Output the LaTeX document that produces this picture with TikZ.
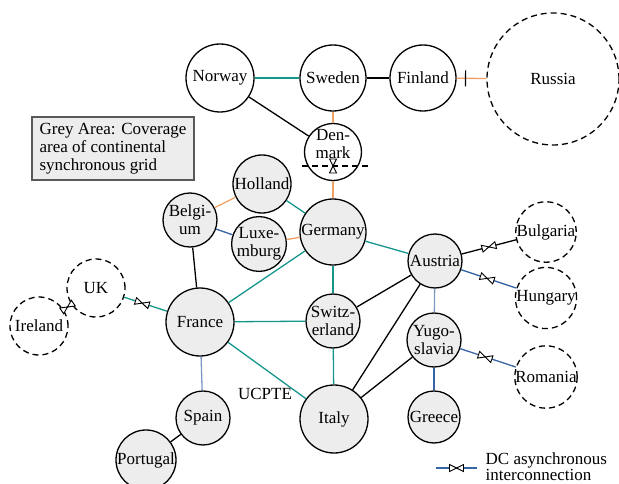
\documentclass[tikz,border=0pt]{standalone}
\usepackage{fontspec}
\setmainfont{Liberation Serif}
\usetikzlibrary{decorations.markings}
\definecolor{cgrey}{gray}{0.93}
\definecolor{lteal}{RGB}{20,150,140}
\definecolor{lorange}{RGB}{240,160,100}
\definecolor{lblue}{RGB}{55,100,165}
\definecolor{lpale}{RGB}{125,152,195}
\tikzset{
	ctry/.style={circle,draw,line width=1.3pt,fill=cgrey,inner sep=0pt,align=center,minimum size=#1},
	nordic/.style={ctry=#1,fill=white},
	asyn/.style={ctry=#1,fill=white,dash pattern=on 6pt off 4pt},
	dc/.style={postaction={decorate,decoration={markings,mark=at position #1 with {\draw[black,solid,fill=white,line width=0.9pt] (-7pt,3.5pt)--(0,0)--(-7pt,-3.5pt)--cycle (7pt,3.5pt)--(0,0)--(7pt,-3.5pt)--cycle;}}}},
	dc/.default=0.5,
	tick/.style={postaction={decorate,decoration={markings,mark=at position #1 with {\draw[black,line width=1.2pt] (0,-8pt)--(0,8pt);}}}},
}

\begin{document}
\begin{tikzpicture}[x=1pt,y=-1pt,line width=1.3pt,font=\fontsize{17}{18}\selectfont]
	\useasboundingbox (0,0) rectangle (619,484);

	\node[nordic=68pt] (no) at (220, 78) {Norway};
	\node[nordic=66pt] (se) at (333, 78) {Sweden};
	\node[nordic=66pt] (fi) at (423, 78) {Finland};
	\node[asyn=132pt] (ru) at (553, 79) {Russia};
	\node[nordic=54pt,text depth=16pt] (dk) at (333, 152) {Den-\\mark};

	\node[draw=black!65,line width=1.3pt,fill=cgrey,minimum width=162pt,minimum height=61pt,inner sep=6pt,align=left] (info) at (113, 148.5) {Grey Area: Coverage\\area of continental\\synchronous grid};

	\node[ctry=58pt] (nl) at (262, 184) {Holland};
	\node[ctry=54pt] (be) at (190, 220) {Belgi-\\um};
	\node[ctry=54pt] (lu) at (259, 244) {Luxe-\\mburg};
	\node[ctry=66pt] (de) at (333, 232) {Germany};
	\node[ctry=54pt] (at) at (435, 261) {Austria};
	\node[asyn=60pt] (bg) at (546, 232) {Bulgaria};
	\node[asyn=60pt] (hu) at (546, 298) {Hungary};
	\node[asyn=58pt] (uk) at (96, 288) {UK};
	\node[asyn=58pt] (ie) at (39, 326) {Ireland};
	\node[ctry=68pt] (fr) at (200, 322) {France};
	\node[ctry=54pt] (ch) at (333, 321) {Switz-\\erland};
	\node[ctry=54pt] (yu) at (434, 340) {Yugo-\\slavia};
	\node[asyn=60pt] (ro) at (546, 377) {Romania};
	\node[ctry=54pt] (es) at (203, 418) {Spain};
	\node[ctry=60pt] (pt) at (146, 460) {Portugal};
	\node[ctry=68pt] (it) at (334, 419) {Italy};
	\node[ctry=52pt] (gr) at (434, 417) {Greece};
	\node (ucpte) at (265, 394) {UCPTE};

	\draw[lteal] (no) to (se);
	\draw (se) to (fi);
	\draw[lorange,tick=0.3] (fi) to (ru);
	\draw (no) to (dk);
	\draw[lorange] (se) to (dk);
	\draw[lorange] (dk) to (de);
	\coordinate (dkx) at (333, 166);
	\draw[line width=1.1pt,dash pattern=on 6pt off 4pt] ([xshift=-31pt]dkx) to ([xshift=36pt]dkx);
	\draw[fill=white,line width=0.9pt] ([shift={(-3.5,-7)}]dkx) -- (dkx) -- ([shift={(3.5,-7)}]dkx) -- cycle ([shift={(-3.5,7)}]dkx) -- (dkx) -- ([shift={(3.5,7)}]dkx) -- cycle;

	\draw[lorange] (nl) to (be);
	\draw[lteal] (nl) to (de);
	\draw[lblue] (be) to (lu);
	\draw[lorange] (lu) to (de);
	\draw (be) to (fr);
	\draw[lteal] (de) to (fr);
	\draw[lteal] (de) to (ch);
	\draw[lteal] (de) to (at);
	\draw[lteal] (fr) to (ch);
	\draw[lteal] (fr) to (it);
	\draw[lpale] (fr) to (es);
	\draw[lteal,dc=0.42] (uk) to (fr);
	\draw[dc] (ie) to (uk);
	\draw (es) to (pt);
	\draw (ch) to (at);
	\draw[lteal] (ch) to (it);
	\draw (at) to (it);
	\draw[lpale] (at) to (yu);
	\draw[dc] (at) to (bg);
	\draw[lblue,dc=0.47] (at) to (hu);
	\draw (yu) to (it);
	\draw[lblue] (yu) to (gr);
	\draw[lblue,dc=0.45] (yu) to (ro);

	\coordinate (lga) at (436, 468);
	\coordinate (lgb) at (477, 468);
	\draw[lblue,dc] (lga) to (lgb);
	\node[anchor=west,align=left,inner sep=0pt,font=\fontsize{17}{16}\selectfont] (lgt) at (485, 467) {DC asynchronous\\interconnection};
\end{tikzpicture}
\end{document}
